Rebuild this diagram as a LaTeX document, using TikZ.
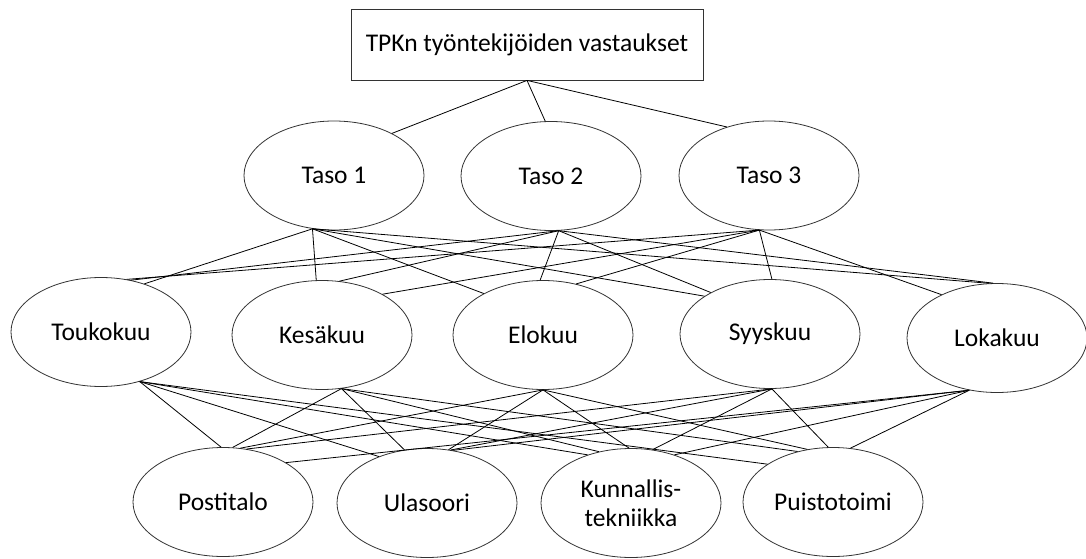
\documentclass[tikz,border=0pt]{standalone}
\usepackage{fontspec}
\setmainfont{Carlito}
\usetikzlibrary{shapes.geometric}
\begin{document}
\begin{tikzpicture}[x=1pt,y=-1pt,
  oval/.style={draw=black!80, line width=0.8pt, ellipse, minimum width=180pt, minimum height=109pt, inner sep=0pt, align=center, font=\fontsize{25.5}{29}\selectfont},
  topbox/.style={draw=black!80, line width=0.8pt, rectangle, minimum width=352pt, minimum height=71pt, inner sep=0pt, font=\fontsize{25.5}{29}\selectfont},
  link/.style={draw=black, line width=0.8pt}]
\useasboundingbox[fill=white] (0,0) rectangle (1086,559);
\node[topbox] (top) at (527,44.5) {TPKn työntekijöiden vastaukset};
\node[oval] (t1) at (334,175.5) {Taso 1};
\node[oval] (t2) at (551,176) {Taso 2};
\node[oval] (t3) at (769,175.5) {Taso 3};
\node[oval] (m1) at (101,332) {Toukokuu};
\node[oval] (m2) at (322,335) {Kesäkuu};
\node[oval] (m3) at (543,335) {Elokuu};
\node[oval] (m4) at (770,334) {Syyskuu};
\node[oval] (m5) at (997,338) {Lokakuu};
\node[oval] (b1) at (223,502) {Postitalo};
\node[oval] (b2) at (427,503) {Ulasoori};
\node[oval] (b3) at (631,503) {Kunnallis-\\tekniikka};
\node[oval] (b4) at (833,502) {Puistotoimi};
% junction points
\coordinate (j0) at (top.south);
\coordinate (j1) at (t1.-112);
\coordinate (j2) at (t2.-82);
\coordinate (j3) at (t3.-100);
\coordinate (k1) at (m1.-52);
\coordinate (k2) at (m2.-70);
\coordinate (k3) at (m3.-90);
\coordinate (k4) at (m4.-88);
\coordinate (k5) at (m5.-118);
% top level
\draw[link] (j0) -- (t1.36);
\draw[link] (j0) -- (t2.96);
\draw[link] (j0) -- (t3.131);
% taso -> months
\draw[link] (j1) -- (m1.48);
\draw[link] (j1) -- (m2.96);
\draw[link] (j1) -- (m3.145);
\draw[link] (j1) -- (m4.150);
\draw[link] (j1) -- (m5.98);
\draw[link] (j2) -- (m1.60);
\draw[link] (j2) -- (m2.72);
\draw[link] (j2) -- (m3.93);
\draw[link] (j2) -- (m4.145);
\draw[link] (j2) -- (m5.94);
\draw[link] (j3) -- (m1.64);
\draw[link] (j3) -- (m2.34);
\draw[link] (j3) -- (m3.57);
\draw[link] (j3) -- (m4.88);
\draw[link] (j3) -- (m5.142);
% months -> units
\draw[link] (k1) -- (b1.92);
\draw[link] (k1) -- (b2.136);
\draw[link] (k1) -- (b3.132);
\draw[link] (k1) -- (b4.150);
\draw[link] (k2) -- (b1.80);
\draw[link] (k2) -- (b2.113);
\draw[link] (k2) -- (b3.122);
\draw[link] (k2) -- (b4.125);
\draw[link] (k3) -- (b1.72);
\draw[link] (k3) -- (b2.68);
\draw[link] (k3) -- (b3.92);
\draw[link] (k3) -- (b4.116);
\draw[link] (k4) -- (b1.66);
\draw[link] (k4) -- (b2.66);
\draw[link] (k4) -- (b3.68);
\draw[link] (k4) -- (b4.95);
\draw[link] (k5) -- (b1.32);
\draw[link] (k5) -- (b2.64);
\draw[link] (k5) -- (b3.48);
\draw[link] (k5) -- (b4.72);
\end{tikzpicture}
\end{document}
